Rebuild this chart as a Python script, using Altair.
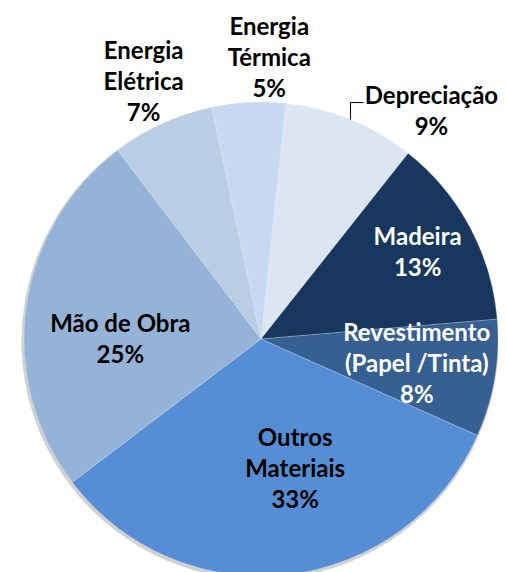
import math
import altair as alt
import pandas as pd

# ---- data ----
categories = ["Depreciação", "Madeira", "Revestimento (Papel /Tinta)", "Outros Materiais",
              "Mão de Obra", "Energia Elétrica", "Energia Térmica"]
values = [9, 13, 8, 33, 25, 7, 5]
label_lines = [["Depreciação"], ["Madeira"], ["Revestimento", "(Papel /Tinta)"], ["Outros", "Materiais"],
               ["Mão de Obra"], ["Energia", "Elétrica"], ["Energia", "Térmica"]]
colors = ["#DCE6F2", "#17375E", "#376092", "#558ED5", "#95B3D7", "#B9CDE5", "#C6D9F1"]

df = pd.DataFrame({
    "cat": categories,
    "value": values,
    "idx": list(range(len(categories))),
    "label": ["\n".join(l + [f"{v}%"]) for l, v in zip(label_lines, values)],
})

# ---- layout ----
W, H = 490, 564
CX, CY, R = 253, 331, 237
START = math.radians(6)
theta_scale = alt.Scale(domain=[0, 100], range=[START, START + 2 * math.pi])
FONT = "Lato"
FS = 24
LH = 31
DY0 = 0

base = alt.Chart(df)

shadow = base.mark_arc(radius=R + 1.5, color="#000000", opacity=0.18).encode(
    theta=alt.Theta("value:Q", stack=True, scale=theta_scale),
    order=alt.Order("idx:Q"),
    x=alt.value(CX - 1), y=alt.value(CY + 2),
)

pie = base.mark_arc(radius=R, stroke="#ffffff", strokeWidth=0.6, strokeOpacity=0.35).encode(
    theta=alt.Theta("value:Q", stack=True, scale=theta_scale),
    color=alt.Color("cat:N", scale=alt.Scale(domain=categories, range=colors), legend=None),
    order=alt.Order("idx:Q"),
    x=alt.value(CX), y=alt.value(CY),
)

mid_base = base.transform_window(
    cum="sum(value)", sort=[alt.SortField("idx")], frame=[None, 0]
).transform_calculate(mid="datum.cum - datum.value / 2")

# per-label layout: (radius, dx, dy, colour)
label_layout = {
    "Depreciação": (287, 62, 39, "#000000"),
    "Madeira": (180, -2, 0, "#ffffff"),
    "Revestimento (Papel /Tinta)": (158, 0, 0, "#ffffff"),
    "Outros Materiais": (132, 19, 0, "#000000"),
    "Mão de Obra": (142, 0, 21, "#000000"),
    "Energia Elétrica": (282, 0, 0, "#000000"),
    "Energia Térmica": (282, 23, 2, "#000000"),
}

layers = [shadow, pie]
for cat, lines in zip(categories, label_lines):
    r, dx, dy, col = label_layout[cat]
    n = len(lines) + 1
    layers.append(
        mid_base.transform_filter(alt.datum.cat == cat).mark_text(
            radius=r, dx=dx, dy=dy + DY0 - (n - 1) * LH / 2, color=col, font=FONT, fontSize=FS,
            fontWeight="bold", lineBreak="\n", lineHeight=LH, align="center", baseline="middle",
        ).encode(
            theta=alt.Theta("mid:Q", stack=False, scale=theta_scale),
            text="label:N",
            x=alt.value(CX), y=alt.value(CY),
        )
    )

# leader line for Depreciação, computed from its slice mid-angle on the rim
leader_base = mid_base.transform_filter(alt.datum.cat == "Depreciação").transform_calculate(
    ang=f"{START} + datum.mid / 100 * 2 * PI",
).transform_calculate(
    px=f"{CX} + {R} * sin(datum.ang)",
    py=f"{CY} - {R} * cos(datum.ang)",
).transform_calculate(
    py2="datum.py - 17",
    px2="datum.px + 13",
)
leader_v = leader_base.mark_rule(color="#000000", strokeWidth=1).encode(
    x=alt.X("px:Q", scale=None), y=alt.Y("py:Q", scale=None), y2="py2:Q",
)
leader_h = leader_base.mark_rule(color="#000000", strokeWidth=1).encode(
    x=alt.X("px:Q", scale=None), x2="px2:Q", y=alt.Y("py2:Q", scale=None),
)
layers += [leader_v, leader_h]

chart = alt.layer(*layers).properties(
    width=W, height=H, autosize=alt.AutoSizeParams(type="none"), padding=0,
).configure(background="#ffffff", view=alt.ViewConfig(stroke=None))

chart.save("out.html", embed_options={"renderer": "svg", "actions": False})
